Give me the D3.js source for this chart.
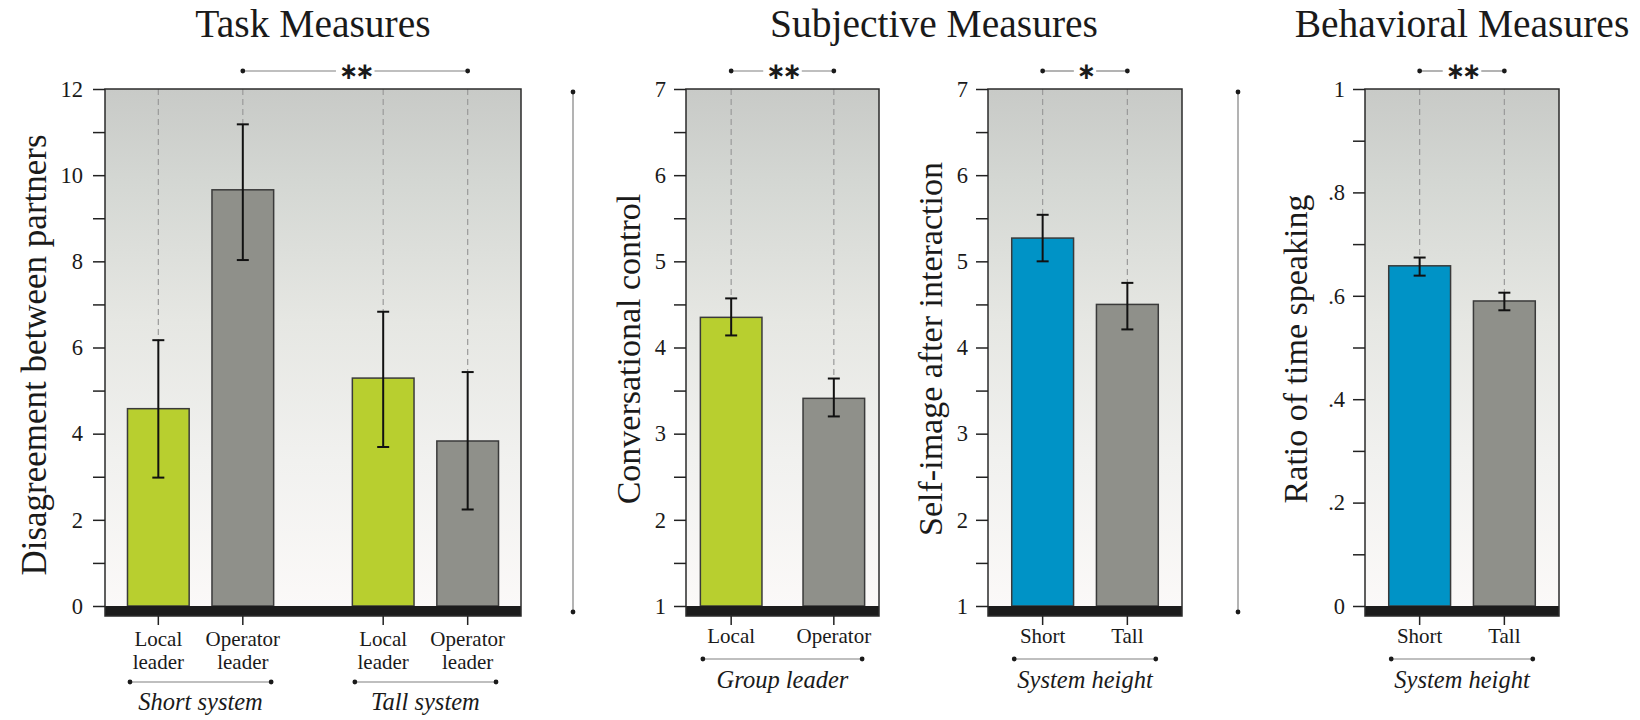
<!DOCTYPE html>
<html>
<head>
<meta charset="utf-8">
<script src="https://cdn.jsdelivr.net/npm/d3@7"></script>
<style>
body { margin: 0; background: #fff; }
text { font-family: "Liberation Serif", serif; fill: #1a1a1a; }
</style>
</head>
<body>
<svg id="chart" width="1640" height="720"></svg>
<script>
// ---- data ----
const taskSystems = ["Short system", "Tall system"]
const taskLeaders = ["Local leader", "Operator leader"]
const taskMeans = [4.58, 9.66, 5.29, 3.83]
const taskLow = [2.98, 8.03, 3.69, 2.24]
const taskHigh = [6.17, 11.18, 6.83, 5.43]

const controlLeaders = ["Local", "Operator"]
const controlMeans = [4.35, 3.41]
const controlLow = [4.14, 3.20]
const controlHigh = [4.57, 3.64]

const selfHeights = ["Short", "Tall"]
const selfMeans = [5.27, 4.50]
const selfLow = [5.00, 4.21]
const selfHigh = [5.54, 4.75]

const ratioHeights = ["Short", "Tall"]
const ratioMeans = [0.658, 0.590]
const ratioLow = [0.639, 0.572]
const ratioHigh = [0.674, 0.606]

const taskTicks = [0, 2, 4, 6, 8, 10, 12]
const likertTicks = [1, 2, 3, 4, 5, 6, 7]
const ratioTicks = [0, 0.2, 0.4, 0.6, 0.8, 1]
const ratioTickLabels = ["0", ".2", ".4", ".6", ".8", "1"]

const green = "#b8cf2f", gray = "#8f908a", blue = "#0093c6"

// ---- layout ----
const plotTop = 89, plotBase = 606, bandH = 10
const svg = d3.select("#chart")

const defs = svg.append("defs")
const grad = defs.append("linearGradient").attr("id", "bg")
    .attr("x1", 0).attr("y1", 0).attr("x2", 0).attr("y2", 1)
;[[0, "#c8cac7"], [0.18, "#d4d7d3"], [0.45, "#e6e7e3"], [0.72, "#f1f1ef"], [1, "#fbf9f8"]]
    .forEach(s => grad.append("stop").attr("offset", s[0]).attr("stop-color", s[1]))

function bracket(x1, x2, y) {
    svg.append("line").attr("x1", x1).attr("x2", x2).attr("y1", y).attr("y2", y)
        .attr("stroke", "#808080").attr("stroke-width", 1.2)
    ;[x1, x2].forEach(x => svg.append("circle").attr("cx", x).attr("cy", y).attr("r", 2.4).attr("fill", "#1a1a1a"))
}

function sigBracket(x1, x2, y, stars) {
    const mid = (x1 + x2) / 2
    const t = svg.append("text").attr("x", mid).attr("y", y)
        .attr("text-anchor", "middle").attr("dominant-baseline", "central")
        .style("font-family", "'DejaVu Sans', sans-serif").style("font-size", "23px")
        .style("font-weight", "bold").style("letter-spacing", "-3px")
        .text(stars)
    const gap = t.node().getComputedTextLength() / 2 + 3
    ;[[x1, mid - gap], [mid + gap, x2]].forEach(seg => svg.append("line")
        .attr("x1", seg[0]).attr("x2", seg[1]).attr("y1", y).attr("y2", y)
        .attr("stroke", "#808080").attr("stroke-width", 1.2))
    ;[x1, x2].forEach(x => svg.append("circle").attr("cx", x).attr("cy", y).attr("r", 2.4).attr("fill", "#1a1a1a"))
}

function panel(p) {
    const y = d3.scaleLinear().domain(p.domain).range([plotBase, plotTop])
    const w = p.x1 - p.x0
    const g = svg.append("g")

    g.append("rect").attr("x", p.x0).attr("y", plotTop).attr("width", w)
        .attr("height", plotBase - plotTop).attr("fill", "url(#bg)")

    // dashed guides from top of frame to error bar top
    g.selectAll(".guide").data(p.bars).enter().append("line")
        .attr("x1", d => d.cx).attr("x2", d => d.cx)
        .attr("y1", plotTop).attr("y2", d => y(d.hi))
        .attr("stroke", "#9a9a9a").attr("stroke-width", 1.2).attr("stroke-dasharray", "6,4")

    g.selectAll(".bar").data(p.bars).enter().append("rect")
        .attr("x", d => d.x).attr("width", d => d.w)
        .attr("y", d => y(d.mean)).attr("height", d => plotBase - y(d.mean))
        .attr("fill", d => d.color).attr("stroke", "#3a3a3a").attr("stroke-width", 1.5)

    const err = g.selectAll(".err").data(p.bars).enter().append("g")
        .attr("stroke", "#111").attr("stroke-width", 2)
    err.append("line").attr("x1", d => d.cx).attr("x2", d => d.cx)
        .attr("y1", d => y(d.lo)).attr("y2", d => y(d.hi))
    err.append("line").attr("x1", d => d.cx - 6).attr("x2", d => d.cx + 6)
        .attr("y1", d => y(d.lo)).attr("y2", d => y(d.lo))
    err.append("line").attr("x1", d => d.cx - 6).attr("x2", d => d.cx + 6)
        .attr("y1", d => y(d.hi)).attr("y2", d => y(d.hi))

    g.append("rect").attr("x", p.x0).attr("y", plotBase).attr("width", w)
        .attr("height", bandH).attr("fill", "#1c1c1c")
    g.append("rect").attr("x", p.x0).attr("y", plotTop).attr("width", w)
        .attr("height", plotBase + bandH - plotTop).attr("fill", "none")
        .attr("stroke", "#2b2b2b").attr("stroke-width", 1.5)

    // y axis: labelled majors plus unlabelled half steps
    const step = p.ticks[1] - p.ticks[0]
    const allTicks = []
    p.ticks.forEach((t, i) => {
        allTicks.push(t)
        if (i < p.ticks.length - 1) allTicks.push(t + step / 2)
    })
    const axis = d3.axisLeft(y).tickValues(allTicks).tickSize(12).tickPadding(p.tickPad || 8)
        .tickFormat(v => {
            const i = p.ticks.findIndex(t => Math.abs(t - v) < 1e-9)
            return i < 0 ? "" : (p.tickLabels ? p.tickLabels[i] : String(v))
        })
    const ax = g.append("g").attr("transform", `translate(${p.x0},0)`).call(axis)
    ax.select(".domain").remove()
    ax.selectAll(".tick line").attr("stroke", "#222").attr("stroke-width", 1.5)
    ax.selectAll(".tick text").style("font-family", "'Liberation Serif', serif")
        .style("font-size", "22.5px").attr("fill", "#1a1a1a")

    // x ticks under the band
    g.selectAll(".xt").data(p.bars).enter().append("line")
        .attr("x1", d => d.cx).attr("x2", d => d.cx)
        .attr("y1", plotBase + bandH).attr("y2", plotBase + bandH + 9)
        .attr("stroke", "#222").attr("stroke-width", 1.5)

    // category labels
    p.bars.forEach(d => {
        const words = p.twoLine ? d.label.split(" ") : [d.label]
        const t = g.append("text").attr("text-anchor", "middle").style("font-size", "21px")
        words.forEach((wd, i) => t.append("tspan").attr("x", d.cx)
            .attr("y", (p.twoLine ? 646 : 643) + i * 23).text(wd))
    })

    // group brackets + italic labels
    p.groups.forEach(gr => {
        const by = p.twoLine ? 682 : 659
        bracket(gr.x1, gr.x2, by)
        g.append("text").attr("x", (gr.x1 + gr.x2) / 2).attr("y", p.twoLine ? 710 : 688)
            .attr("text-anchor", "middle").style("font-size", "24.5px").style("font-style", "italic")
            .text(gr.label)
    })

    // y title
    g.append("text").attr("transform", `translate(${p.titleX},${p.titleY}) rotate(-90)`)
        .attr("text-anchor", "middle").style("font-size", p.titleSize || "34px").text(p.yTitle)

    sigBracket(p.bars[p.sig[0]].cx, p.bars[p.sig[1]].cx, 71, p.stars)
}

function makeBars(x, cats, means, lo, hi, colors) {
    return cats.map((c, i) => ({
        label: c, x: x(c), w: x.bandwidth(), cx: x(c) + x.bandwidth() / 2,
        mean: means[i], lo: lo[i], hi: hi[i], color: colors[i]
    }))
}

// ---- Task panel ----
const outer = d3.scaleBand().domain(taskSystems).range([105, 521]).paddingInner(0.35).paddingOuter(0.1)
const inner = d3.scaleBand().domain(taskLeaders).range([0, outer.bandwidth()]).paddingInner(0.27)
const taskBars = []
taskSystems.forEach((s, si) => {
    taskLeaders.forEach((l, li) => {
        const k = si * 2 + li
        const x = outer(s) + inner(l)
        taskBars.push({ label: l, x: x, w: inner.bandwidth(), cx: x + inner.bandwidth() / 2,
            mean: taskMeans[k], lo: taskLow[k], hi: taskHigh[k], color: li === 0 ? green : gray })
    })
})
panel({
    x0: 105, x1: 521, domain: [0, 12], ticks: taskTicks, bars: taskBars, twoLine: true, tickPad: 10,
    groups: taskSystems.map(s => ({ label: s, x1: outer(s) + 2.5, x2: outer(s) + outer.bandwidth() - 2.5 })),
    yTitle: "Disagreement between partners", titleX: 46, titleY: 355, titleSize: "35px", sig: [1, 3], stars: "∗∗"
})

// ---- Subjective panels ----
const xc = d3.scaleBand().domain(controlLeaders).range([686, 879]).paddingInner(0.4).paddingOuter(0.14)
const cBars = makeBars(xc, controlLeaders, controlMeans, controlLow, controlHigh, [green, gray])
panel({
    x0: 686, x1: 879, domain: [1, 7], ticks: likertTicks, bars: cBars,
    groups: [{ label: "Group leader", x1: cBars[0].x + 2.5, x2: cBars[1].x + cBars[1].w - 2.5 }],
    yTitle: "Conversational control", titleX: 640, titleY: 349, sig: [0, 1], stars: "∗∗"
})

const xs = d3.scaleBand().domain(selfHeights).range([988, 1182]).paddingInner(0.27).paddingOuter(0.28)
const sBars = makeBars(xs, selfHeights, selfMeans, selfLow, selfHigh, [blue, gray])
panel({
    x0: 988, x1: 1182, domain: [1, 7], ticks: likertTicks, bars: sBars,
    groups: [{ label: "System height", x1: sBars[0].x + 2.5, x2: sBars[1].x + sBars[1].w - 2.5 }],
    yTitle: "Self-image after interaction", titleX: 942, titleY: 349, sig: [0, 1], stars: "∗"
})

// ---- Behavioral panel ----
const xr = d3.scaleBand().domain(ratioHeights).range([1365, 1559]).paddingInner(0.27).paddingOuter(0.28)
const rBars = makeBars(xr, ratioHeights, ratioMeans, ratioLow, ratioHigh, [blue, gray])
panel({
    x0: 1365, x1: 1559, domain: [0, 1], ticks: ratioTicks, tickLabels: ratioTickLabels, bars: rBars,
    groups: [{ label: "System height", x1: rBars[0].x + 2.5, x2: rBars[1].x + rBars[1].w - 2.5 }],
    yTitle: "Ratio of time speaking", titleX: 1307, titleY: 349, sig: [0, 1], stars: "∗∗"
})

// section titles
;[["Task Measures", 313], ["Subjective Measures", 934], ["Behavioral Measures", 1462]].forEach(t =>
    svg.append("text").attr("x", t[1]).attr("y", 37).attr("text-anchor", "middle")
        .style("font-size", "39.5px").text(t[0]))

// separators between sections
;[573, 1238].forEach(x => {
    svg.append("line").attr("x1", x).attr("x2", x).attr("y1", 92).attr("y2", 612)
        .attr("stroke", "#808080").attr("stroke-width", 1.2)
    ;[92, 612].forEach(yy => svg.append("circle").attr("cx", x).attr("cy", yy).attr("r", 2.4).attr("fill", "#1a1a1a"))
})
</script>
</body>
</html>
